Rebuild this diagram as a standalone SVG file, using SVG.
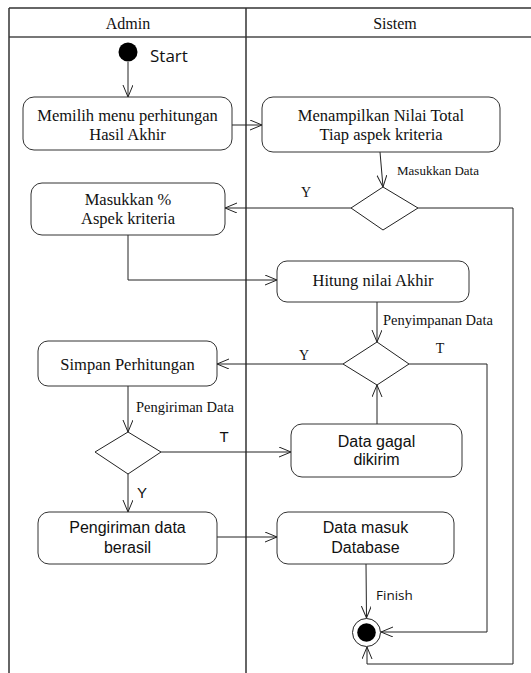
<svg xmlns="http://www.w3.org/2000/svg" width="531" height="673" viewBox="0 0 531 673">
  <style>
    .frame { stroke: #333; stroke-width: 1.5; fill: none; }
    .hdr { stroke: #777; stroke-width: 2; fill: none; }
    .act { fill: #fff; stroke: #333; stroke-width: 1; }
    .dec { fill: #fff; stroke: #222; stroke-width: 1; }
    .edge { stroke: #222; stroke-width: 1; fill: none; marker-end: url(#arr); }
    .serif { font-family: "Liberation Serif", "Times New Roman", serif; fill: #111; }
    .sans { font-family: "Liberation Sans", Arial, sans-serif; fill: #111; }
    .open { font-family: "Open Sans", "Liberation Sans", sans-serif; fill: #111; }
    .lbl { font-size: 16.5px; text-anchor: middle; }
  </style>
  <defs>
    <marker id="arr" markerUnits="userSpaceOnUse" markerWidth="14" markerHeight="12" refX="12" refY="5" orient="auto">
      <path d="M0,0 L12,5 L0,10" fill="none" stroke="#222" stroke-width="1"/>
    </marker>
  </defs>

  <rect width="531" height="673" fill="#fff"/>

  <!-- swimlanes -->
  <g id="lanes">
    <line class="frame" x1="9" y1="8" x2="531" y2="8"/>
    <line class="hdr" x1="9" y1="37" x2="531" y2="37"/>
    <line class="frame" x1="9" y1="8" x2="9" y2="673"/>
    <line class="frame" x1="246" y1="8" x2="246" y2="673"/>
    <text class="serif" x="128" y="29" font-size="16" text-anchor="middle">Admin</text>
    <text class="serif" x="395" y="29" font-size="16" text-anchor="middle">Sistem</text>
  </g>

  <!-- connectors -->
  <g id="connectors">
    <line class="edge" x1="128" y1="62" x2="128" y2="97"/>
    <line class="edge" x1="232" y1="125" x2="262" y2="125"/>
    <line class="edge" x1="380" y1="152" x2="383" y2="187"/>
    <line class="edge" x1="351" y1="208" x2="225" y2="208"/>
    <polyline class="edge" points="418,208 513,208 513,664 367,664 367,647"/>
    <polyline class="edge" points="128,235 128,280 277,280"/>
    <line class="edge" x1="377" y1="302" x2="377" y2="342"/>
    <line class="edge" x1="343" y1="364" x2="217" y2="364"/>
    <polyline class="edge" points="409,364 487,364 487,632 381,632"/>
    <line class="edge" x1="377" y1="424" x2="377" y2="385"/>
    <line class="edge" x1="128" y1="386" x2="128" y2="432"/>
    <line class="edge" x1="161" y1="452" x2="291" y2="452"/>
    <line class="edge" x1="128" y1="474" x2="128" y2="512"/>
    <line class="edge" x1="217" y1="537" x2="277" y2="537"/>
    <line class="edge" x1="366" y1="564" x2="366.5" y2="618"/>

    <text class="serif" x="397" y="175" font-size="13">Masukkan Data</text>
    <text class="serif" x="306" y="197" font-size="14" text-anchor="middle">Y</text>
    <text class="serif" x="383" y="325" font-size="14.5">Penyimpanan Data</text>
    <text class="serif" x="304" y="360" font-size="14" text-anchor="middle">Y</text>
    <text class="serif" x="440" y="353" font-size="14" text-anchor="middle">T</text>
    <text class="serif" x="136" y="412" font-size="14.5">Pengiriman Data</text>
    <text class="sans" x="224" y="442" font-size="15" text-anchor="middle">T</text>
    <text class="sans" x="142" y="498" font-size="15" text-anchor="middle">Y</text>
    <text class="open" x="376" y="600" font-size="13.5">Finish</text>
  </g>

  <!-- nodes -->
  <g id="start">
    <circle cx="128" cy="52" r="9.5" fill="#000"/>
    <text class="open" x="150" y="62" font-size="17">Start</text>
  </g>

  <g id="pilih-menu">
    <rect class="act" x="23" y="97" width="209" height="53" rx="11"/>
    <text class="serif lbl" x="127.5" y="121">Memilih menu perhitungan</text>
    <text class="serif lbl" x="127.5" y="140">Hasil Akhir</text>
  </g>

  <g id="tampil-nilai">
    <rect class="act" x="262" y="97" width="238" height="55" rx="11"/>
    <text class="serif lbl" x="381" y="121">Menampilkan Nilai Total</text>
    <text class="serif lbl" x="381" y="140">Tiap aspek kriteria</text>
  </g>

  <g id="cek-input">
    <polygon class="dec" points="383,187 418,208 383,230 351,208"/>
  </g>

  <g id="masukkan-persen">
    <rect class="act" x="31" y="183" width="194" height="52" rx="11"/>
    <text class="serif lbl" x="128" y="205">Masukkan %</text>
    <text class="serif lbl" x="128" y="224">Aspek kriteria</text>
  </g>

  <g id="hitung-nilai">
    <rect class="act" x="277" y="261" width="192" height="41" rx="10"/>
    <text class="serif lbl" x="373" y="286">Hitung nilai Akhir</text>
  </g>

  <g id="cek-simpan">
    <polygon class="dec" points="377,342 409,364 377,385 343,364"/>
  </g>

  <g id="simpan">
    <rect class="act" x="38" y="341" width="179" height="45" rx="10"/>
    <text class="serif lbl" x="127.5" y="370">Simpan Perhitungan</text>
  </g>

  <g id="cek-kirim">
    <polygon class="dec" points="128,432 161,452 128,474 95,452"/>
  </g>

  <g id="gagal-kirim">
    <rect class="act" x="291" y="424" width="171" height="53" rx="11"/>
    <text class="sans" x="376.5" y="447" font-size="16" text-anchor="middle">Data gagal</text>
    <text class="sans" x="376.5" y="465" font-size="16" text-anchor="middle">dikirim</text>
  </g>

  <g id="kirim-berhasil">
    <rect class="act" x="38" y="512" width="179" height="52" rx="11"/>
    <text class="sans" x="127.5" y="533" font-size="16" text-anchor="middle">Pengiriman data</text>
    <text class="sans" x="127.5" y="553" font-size="16" text-anchor="middle">berasil</text>
  </g>

  <g id="masuk-database">
    <rect class="act" x="277" y="512" width="177" height="52" rx="11"/>
    <text class="sans" x="365.5" y="533" font-size="16" text-anchor="middle">Data masuk</text>
    <text class="sans" x="365.5" y="553" font-size="16" text-anchor="middle">Database</text>
  </g>

  <g id="finish">
    <circle cx="366.5" cy="632.5" r="14" fill="#fff" stroke="#222" stroke-width="1"/>
    <circle cx="366.5" cy="632.5" r="9.3" fill="#000"/>
  </g>
</svg>
